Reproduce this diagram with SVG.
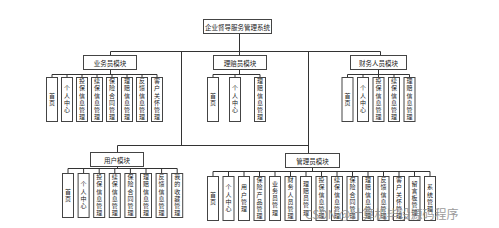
<svg xmlns="http://www.w3.org/2000/svg" width="499" height="228" viewBox="0 0 499 228">
<style>
.b{fill:#fff;stroke:#444;stroke-width:1}
.l{fill:none;stroke:#333;stroke-width:1}
.t{font-family:"Noto Sans CJK SC","Noto Sans CJK TC",sans-serif;font-size:6.5px;fill:#222;text-anchor:middle;dominant-baseline:central}
.v{font-size:6px;writing-mode:vertical-rl;letter-spacing:1.2px}
.wm{font-family:"Noto Sans CJK SC",sans-serif;font-size:12px;fill:#8a8a8a;opacity:0.85}
</style>
<rect width="499" height="228" fill="#fff"/>
<g id="connectors" class="l">
<path d="M239.5 33V51.5M110.5 51.5H380.5M110.5 51.5V55M239.5 51.5V55M380.5 51.5V55M181.5 51.5V145.5M308.5 51.5V153M117.5 145.5H308.5M117.5 145.5V152"/>
<path d="M110.5 69V74.5M52 74.5H157M52 74.5V77M67 74.5V77M82 74.5V77M97 74.5V77M112 74.5V77M127 74.5V77M142 74.5V77M157 74.5V77"/>
<path d="M239.5 69V74.5M213 74.5H260M213 74.5V77M235 74.5V77M260 74.5V77"/>
<path d="M378.5 69V74.5M347.5 74.5H409.5M347.5 74.5V77M363 74.5V77M378.5 74.5V77M394 74.5V77M409.5 74.5V77"/>
<path d="M117.5 166V168.5M68 168.5H177.2M68 168.5V173M83.6 168.5V173M99.2 168.5V173M114.8 168.5V173M130.4 168.5V173M146 168.5V173M161.6 168.5V173M177.2 168.5V173"/>
<path d="M312.5 167V171.5M213 171.5H430M213 171.5V176.5M228.5 171.5V176.5M244 171.5V176.5M259.5 171.5V176.5M275 171.5V176.5M290.5 171.5V176.5M306 171.5V176.5M321.5 171.5V176.5M337 171.5V176.5M352.5 171.5V176.5M368 171.5V176.5M383.5 171.5V176.5M399 171.5V176.5M414.5 171.5V176.5M430 171.5V176.5"/>
</g>
<g id="root"><rect class="b" x="203.5" y="19.5" width="68" height="14"/><text class="t" x="237.5" y="26.5">企业督导服务管理系统</text></g>
<g id="m-yewu"><rect class="b" x="83.5" y="55.5" width="53" height="14"/><text class="t" x="110" y="62.5">业务员模块</text></g>
<g id="m-lipei"><rect class="b" x="213.5" y="55.5" width="53" height="14"/><text class="t" x="240" y="62.5">理赔员模块</text></g>
<g id="m-caiwu"><rect class="b" x="350.5" y="55.5" width="56" height="14"/><text class="t" x="378.5" y="62.5">财务人员模块</text></g>
<g id="m-yonghu"><rect class="b" x="90.5" y="152.5" width="53" height="14"/><text class="t" x="117" y="159.5">用户模块</text></g>
<g id="m-guanli"><rect class="b" x="285.5" y="153.5" width="54" height="14"/><text class="t" x="312.5" y="160.5">管理员模块</text></g>

<g id="yw-1"><rect class="b" x="46.5" y="77.5" width="11" height="44"/><text class="t v" x="52" y="99.5">首页</text></g>
<g id="yw-2"><rect class="b" x="61.5" y="77.5" width="11" height="44"/><text class="t v" x="67" y="99.5">个人中心</text></g>
<g id="yw-3"><rect class="b" x="76.5" y="77.5" width="11" height="44"/><text class="t v" x="82" y="99.5">投保信息管理</text></g>
<g id="yw-4"><rect class="b" x="91.5" y="77.5" width="11" height="44"/><text class="t v" x="97" y="99.5">续保信息管理</text></g>
<g id="yw-5"><rect class="b" x="106.5" y="77.5" width="11" height="44"/><text class="t v" x="112" y="99.5">保险合同管理</text></g>
<g id="yw-6"><rect class="b" x="121.5" y="77.5" width="11" height="44"/><text class="t v" x="127" y="99.5">理赔信息管理</text></g>
<g id="yw-7"><rect class="b" x="136.5" y="77.5" width="11" height="44"/><text class="t v" x="142" y="99.5">反馈信息管理</text></g>
<g id="yw-8"><rect class="b" x="151.5" y="77.5" width="11" height="44"/><text class="t v" x="157" y="99.5">客户关怀管理</text></g>

<g id="lp-1"><rect class="b" x="207.5" y="77.5" width="11" height="44"/><text class="t v" x="213" y="99.5">首页</text></g>
<g id="lp-2"><rect class="b" x="229.5" y="77.5" width="11" height="44"/><text class="t v" x="235" y="99.5">个人中心</text></g>
<g id="lp-3"><rect class="b" x="254.5" y="77.5" width="11" height="44"/><text class="t v" x="260" y="99.5">理赔信息管理</text></g>

<g id="cw-1"><rect class="b" x="342" y="77.5" width="11" height="44"/><text class="t v" x="347.5" y="99.5">首页</text></g>
<g id="cw-2"><rect class="b" x="357.5" y="77.5" width="11" height="44"/><text class="t v" x="363" y="99.5">个人中心</text></g>
<g id="cw-3"><rect class="b" x="373" y="77.5" width="11" height="44"/><text class="t v" x="378.5" y="99.5">投保信息管理</text></g>
<g id="cw-4"><rect class="b" x="388.5" y="77.5" width="11" height="44"/><text class="t v" x="394" y="99.5">续保信息管理</text></g>
<g id="cw-5"><rect class="b" x="404" y="77.5" width="11" height="44"/><text class="t v" x="409.5" y="99.5">理赔信息管理</text></g>

<g id="yh-1"><rect class="b" x="62.5" y="173.5" width="11" height="44"/><text class="t v" x="68" y="195.5">首页</text></g>
<g id="yh-2"><rect class="b" x="78.1" y="173.5" width="11" height="44"/><text class="t v" x="83.6" y="195.5">个人中心</text></g>
<g id="yh-3"><rect class="b" x="93.7" y="173.5" width="11" height="44"/><text class="t v" x="99.2" y="195.5">投保信息管理</text></g>
<g id="yh-4"><rect class="b" x="109.3" y="173.5" width="11" height="44"/><text class="t v" x="114.8" y="195.5">续保信息管理</text></g>
<g id="yh-5"><rect class="b" x="124.9" y="173.5" width="11" height="44"/><text class="t v" x="130.4" y="195.5">保险合同管理</text></g>
<g id="yh-6"><rect class="b" x="140.5" y="173.5" width="11" height="44"/><text class="t v" x="146" y="195.5">理赔信息管理</text></g>
<g id="yh-7"><rect class="b" x="156.1" y="173.5" width="11" height="44"/><text class="t v" x="161.6" y="195.5">反馈信息管理</text></g>
<g id="yh-8"><rect class="b" x="171.7" y="173.5" width="11" height="44"/><text class="t v" x="177.2" y="195.5">我的收藏管理</text></g>

<g id="gl-1"><rect class="b" x="207.5" y="176.5" width="11" height="44"/><text class="t v" x="213" y="198.5">首页</text></g>
<g id="gl-2"><rect class="b" x="223" y="176.5" width="11" height="44"/><text class="t v" x="228.5" y="198.5">个人中心</text></g>
<g id="gl-3"><rect class="b" x="238.5" y="176.5" width="11" height="44"/><text class="t v" x="244" y="198.5">用户管理</text></g>
<g id="gl-4"><rect class="b" x="254" y="176.5" width="11" height="44"/><text class="t v" x="259.5" y="198.5">保险产品管理</text></g>
<g id="gl-5"><rect class="b" x="269.5" y="176.5" width="11" height="44"/><text class="t v" x="275" y="198.5">业务员管理</text></g>
<g id="gl-6"><rect class="b" x="285" y="176.5" width="11" height="44"/><text class="t v" x="290.5" y="198.5">财务人员管理</text></g>
<g id="gl-7"><rect class="b" x="300.5" y="176.5" width="11" height="44"/><text class="t v" x="306" y="198.5">理赔员管理</text></g>
<g id="gl-8"><rect class="b" x="316" y="176.5" width="11" height="44"/><text class="t v" x="321.5" y="198.5">投保信息管理</text></g>
<g id="gl-9"><rect class="b" x="331.5" y="176.5" width="11" height="44"/><text class="t v" x="337" y="198.5">续保信息管理</text></g>
<g id="gl-10"><rect class="b" x="347" y="176.5" width="11" height="44"/><text class="t v" x="352.5" y="198.5">保险合同管理</text></g>
<g id="gl-11"><rect class="b" x="362.5" y="176.5" width="11" height="44"/><text class="t v" x="368" y="198.5">理赔信息管理</text></g>
<g id="gl-12"><rect class="b" x="378" y="176.5" width="11" height="44"/><text class="t v" x="383.5" y="198.5">反馈信息管理</text></g>
<g id="gl-13"><rect class="b" x="393.5" y="176.5" width="11" height="44"/><text class="t v" x="399" y="198.5">客户关怀管理</text></g>
<g id="gl-14"><rect class="b" x="409" y="176.5" width="11" height="44"/><text class="t v" x="414.5" y="198.5">留言板管理</text></g>
<g id="gl-15"><rect class="b" x="424.5" y="176.5" width="11" height="44"/><text class="t v" x="430" y="198.5">系统管理</text></g>

<text class="wm" x="305" y="219">CSDN @计算机毕设源码程序</text>
</svg>
